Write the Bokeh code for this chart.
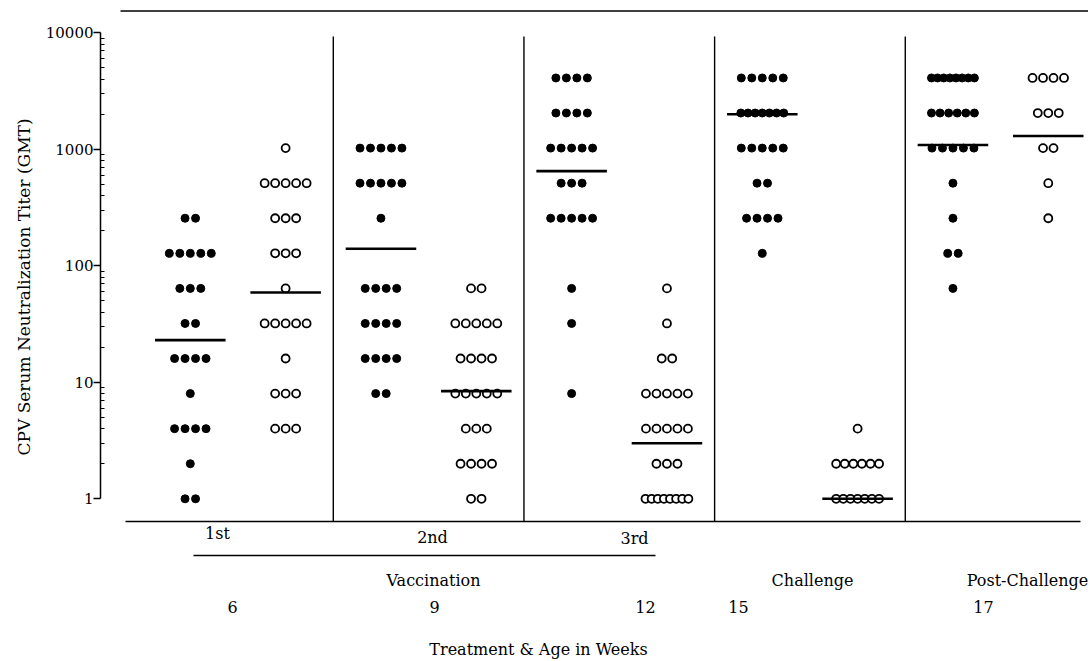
from bokeh.plotting import figure
from bokeh.models import Range1d, FixedTicker, PrintfTickFormatter, LinearScale, Title
from bokeh.core.properties import value
from bokeh.embed import file_html
from bokeh.resources import INLINE

# ---------------- data ----------------
weeks = ["6", "9", "12", "15", "17"]
treatments = ["1st", "2nd", "3rd"]
phases = ["Vaccination", "Challenge", "Post-Challenge"]
y_ticks = [1, 10, 100, 1000, 10000]
y_tick_labels = ["1", "10", "100", "1000", "10000"]

# vaccinated pups (filled dots): titer levels and number of pups at each level
vac_w6_titer = [1, 2, 4, 8, 16, 32, 64, 128, 256]
vac_w6_count = [2, 1, 4, 1, 4, 2, 3, 5, 2]
vac_w9_titer = [8, 16, 32, 64, 256, 512, 1024]
vac_w9_count = [2, 4, 4, 4, 1, 5, 5]
vac_w12_titer = [8, 32, 64, 256, 512, 1024, 2048, 4096]
vac_w12_count = [1, 1, 1, 5, 3, 5, 4, 4]
vac_w15_titer = [128, 256, 512, 1024, 2048, 4096]
vac_w15_count = [1, 4, 2, 5, 7, 5]
vac_w17_titer = [64, 128, 256, 512, 1024, 2048, 4096]
vac_w17_count = [1, 2, 1, 1, 5, 6, 8]

# control pups (open circles)
ctl_w6_titer = [4, 8, 16, 32, 64, 128, 256, 512, 1024]
ctl_w6_count = [3, 3, 1, 5, 1, 3, 3, 5, 1]
ctl_w9_titer = [1, 2, 4, 8, 16, 32, 64]
ctl_w9_count = [2, 4, 3, 5, 4, 5, 2]
ctl_w12_titer = [1, 2, 4, 8, 16, 32, 64]
ctl_w12_count = [8, 3, 5, 5, 2, 1, 1]
ctl_w15_titer = [1, 2, 4]
ctl_w15_count = [7, 6, 1]
ctl_w17_titer = [256, 512, 1024, 2048, 4096]
ctl_w17_count = [1, 1, 2, 3, 4]

# geometric mean titers (horizontal bars)
vac_gmt = [23, 140, 650, 2000, 1090]
ctl_gmt = [59, 8.4, 3.0, 1.0, 1300]

vac_series = [(vac_w6_titer, vac_w6_count), (vac_w9_titer, vac_w9_count),
              (vac_w12_titer, vac_w12_count), (vac_w15_titer, vac_w15_count),
              (vac_w17_titer, vac_w17_count)]
ctl_series = [(ctl_w6_titer, ctl_w6_count), (ctl_w9_titer, ctl_w9_count),
              (ctl_w12_titer, ctl_w12_count), (ctl_w15_titer, ctl_w15_count),
              (ctl_w17_titer, ctl_w17_count)]

# ---------------- layout ----------------
FONT_NAME = "DejaVu Serif"
FONT = value(FONT_NAME)
W, H = 1088, 659
LEFT = 100
Y1_PX, DEC_PX = 498.3, 116.5          # pixel of titer 1, pixels per decade
X0_PX, UNIT_PX = 189.8, 95.33         # pixel of column 0, pixels per column


def yv(px):
    return 10 ** ((Y1_PX - px) / DEC_PX)


def xv(px):
    return (px - X0_PX) / UNIT_PX


p = figure(width=W, height=H, output_backend="svg", toolbar_location=None,
           y_axis_type="log", x_axis_location=None,
           x_range=Range1d(xv(LEFT), xv(W)),
           y_range=Range1d(yv(H), yv(0)),
           min_border_left=LEFT, min_border_right=0,
           min_border_top=0, min_border_bottom=0,
           outline_line_color=None, background_fill_color="white")
p.extra_y_ranges = {"px": Range1d(H, 0)}
p.extra_y_scales = {"px": LinearScale()}
p.xgrid.visible = False
p.ygrid.visible = False

ax = p.yaxis[0]
ax.bounds = (1, 10000)
ax.ticker = FixedTicker(ticks=y_ticks,
                        minor_ticks=[m * 10 ** e for e in range(4) for m in range(2, 10)])
ax.formatter = PrintfTickFormatter(format="%d")
ax.major_label_overrides = {t: l for t, l in zip(y_ticks, y_tick_labels)}
ax.axis_line_width = 1.5
ax.major_tick_line_width = 1.5
ax.major_tick_out = 7
ax.major_tick_in = 0
ax.minor_tick_in = 4
ax.minor_tick_out = 0
ax.major_label_standoff = 0
ax.major_label_text_font = FONT_NAME
ax.major_label_text_font_size = "15px"
ax.major_label_text_color = "black"

# y-axis title (a left-side title so that it can sit over the 1..10000 span)
p.add_layout(Title(text="CPV Serum Neutralization Titer (GMT)", align="left",
                   offset=H - 455, text_font=FONT_NAME, text_font_size="17px",
                   text_font_style="normal", text_color="black", standoff=18), "left")

y_base = yv(521)

# frame lines
p.segment(x0=[xv(120)], y0=[yv(10.5)], x1=[xv(W)], y1=[yv(10.5)],
          line_color="black", line_width=1.6)
p.segment(x0=[xv(125)], y0=[y_base], x1=[xv(1080)], y1=[y_base],
          line_color="black", line_width=1.6)
sep_x = [2 * k + 1.5 for k in range(4)]
p.segment(x0=sep_x, y0=[y_base] * 4, x1=sep_x, y1=[yv(36)] * 4,
          line_color="black", line_width=1.4)


def row_positions(center, n):
    sp = 0.11 if n < 2 else min(0.11, 0.45 / (n - 1))
    return [center + (k - (n - 1) / 2) * sp for k in range(n)]


for gi in range(5):
    for kind, series in (("vac", vac_series), ("ctl", ctl_series)):
        center = 2 * gi + (0 if kind == "vac" else 1)
        titers, counts = series[gi]
        xs, ys = [], []
        for t, c in zip(titers, counts):
            xs += row_positions(center, c)
            ys += [t] * c
        if kind == "vac":
            p.scatter(xs, ys, size=8, marker="circle", fill_color="black",
                      line_color="black", line_width=1)
        else:
            p.scatter(xs, ys, size=8, marker="circle", fill_color="white",
                      line_color="black", line_width=1.8)

# mean bars
half = 0.37
mx = [2 * gi + j for gi in range(5) for j in (0, 1)]
my = [g for pair in zip(vac_gmt, ctl_gmt) for g in pair]
p.segment(x0=[x - half for x in mx], y0=my, x1=[x + half for x in mx], y1=my,
          line_color="black", line_width=2.6)

# labels below the axis
tx = dict(text_font=FONT, text_font_size="16px", text_color="black",
          text_align="center", text_baseline="middle", y_range_name="px")
p.text(x=[xv(217), xv(432), xv(634)], y=[533, 537, 538], text=treatments, **tx)
p.segment(x0=[xv(193)], y0=[555], x1=[xv(655)], y1=[555], line_color="black",
          line_width=1.5, y_range_name="px")
p.text(x=[xv(433), xv(812), xv(1027)], y=[580, 580, 580], text=phases, **tx)
p.text(x=[xv(232), xv(434), xv(645), xv(738), xv(983)], y=[606] * 5, text=weeks, **tx)
p.text(x=[xv(538)], y=[649], text=["Treatment & Age in Weeks"], **tx)

open("out.html", "w").write(file_html(p, INLINE))
